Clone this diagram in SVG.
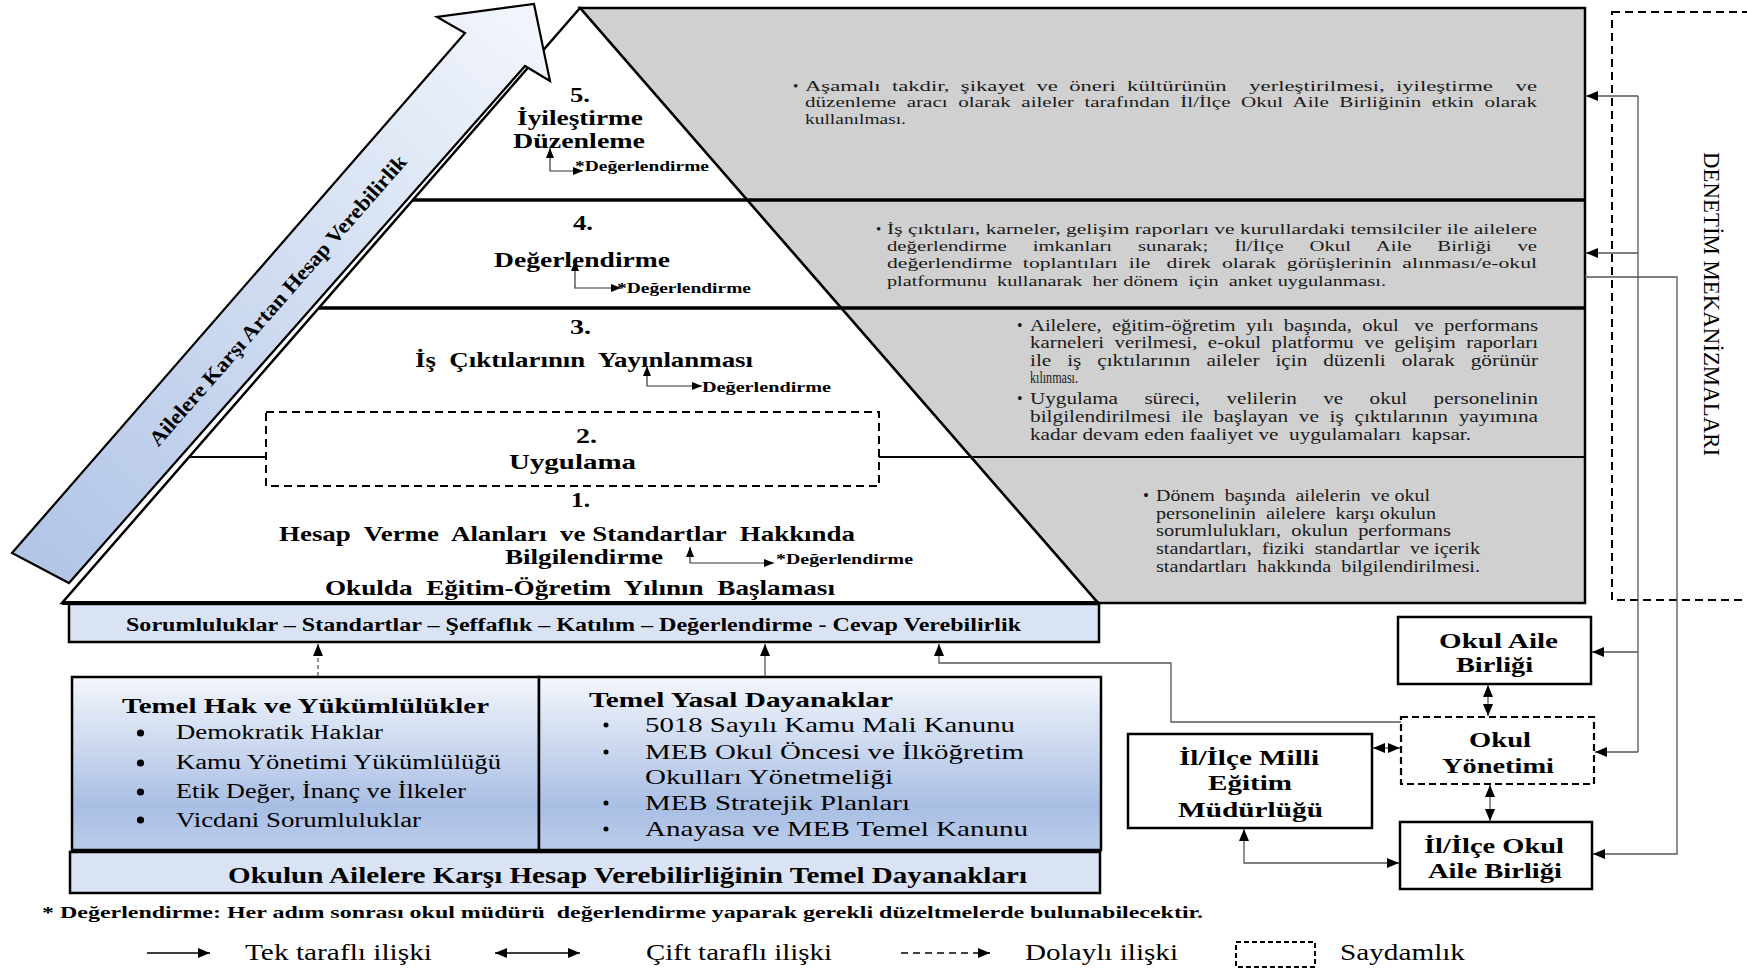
<svg xmlns="http://www.w3.org/2000/svg" width="1747" height="968" viewBox="0 0 1747 968" xml:space="preserve">
<defs>
  <style>
    text { font-family: "Liberation Serif", "Times New Roman", serif; fill: #000; white-space: pre; }
    .b { font-weight: bold; }
    .lvl { font-size: 21px; font-weight: bold; }
    .ev { font-size: 15px; font-weight: bold; }
    .g15 { font-size: 15px; fill: #1a1a1a; }
    .g16 { font-size: 16px; fill: #1a1a1a; }
    .g17 { font-size: 17px; fill: #1a1a1a; }
    .bx { font-size: 22px; font-weight: bold; }
    .lg { font-size: 23px; }
    .thick { stroke: #000; stroke-width: 3.5; }
    .thin { stroke: #000; stroke-width: 2; }
    .dash { fill: none; stroke: #000; stroke-width: 2; stroke-dasharray: 8 5; }
    .box { fill: #fff; stroke: #000; stroke-width: 2.5; }
    .con { fill: none; stroke: #555; stroke-width: 1.3; }
    .sm { fill: none; stroke: #333; stroke-width: 1.2; }
  </style>
  <marker id="a" viewBox="0 0 12 10" refX="12" refY="5" markerWidth="12" markerHeight="10" markerUnits="userSpaceOnUse" orient="auto-start-reverse">
    <path d="M0,0 L12,5 L0,10 z" fill="#000"/>
  </marker>
  <marker id="s" viewBox="0 0 10 8" refX="10" refY="4" markerWidth="10" markerHeight="8" markerUnits="userSpaceOnUse" orient="auto-start-reverse">
    <path d="M0,0 L10,4 L0,8 z" fill="#000"/>
  </marker>
  <linearGradient id="arrowFill" gradientUnits="userSpaceOnUse" x1="534" y1="4" x2="40" y2="569">
    <stop offset="0" stop-color="#f3f6fc"/>
    <stop offset="0.45" stop-color="#d3dff2"/>
    <stop offset="1" stop-color="#b2c5e7"/>
  </linearGradient>
  <linearGradient id="baseFill" x1="0" y1="0" x2="0" y2="1">
    <stop offset="0" stop-color="#f3f6fc"/>
    <stop offset="0.75" stop-color="#a9bee4"/>
    <stop offset="1" stop-color="#bccdeb"/>
  </linearGradient>
</defs>

<!-- grey description bands -->
<g id="bands">
  <polygon points="580,8 1585,8 1585,603 1098,603" fill="#d0d0d0" stroke="#000" stroke-width="2.5" stroke-linejoin="miter"/>
</g>

<!-- pyramid -->
<g id="pyramid">
  <polygon points="580,8 62,603 1098,603" fill="#fff" stroke="#000" stroke-width="2.5" stroke-linejoin="miter"/>
  <line class="thick" x1="412.8" y1="200" x2="1585" y2="200"/>
  <line class="thick" x1="318.8" y1="308" x2="1585" y2="308"/>
  <line class="thin" x1="189" y1="457" x2="266" y2="457"/>
  <line class="thin" x1="879" y1="457" x2="1585" y2="457"/>
  <line stroke="#000" stroke-width="4" x1="62" y1="603" x2="1098" y2="603"/>
</g>

<!-- big rising arrow at the left, drawn over the pyramid edge -->
<g id="arrow-accountability">
  <polygon points="534,4 550,81 525,66 69,583 12,553 465,33 437,17" fill="url(#arrowFill)" stroke="#000" stroke-width="2.2" stroke-linejoin="miter"/>
  <text class="b" font-size="21" transform="translate(283,305) rotate(-48.8)" x="-189.5" y="0" textLength="379" lengthAdjust="spacingAndGlyphs">Ailelere Karşı Artan Hesap Verebilirlik</text>
</g>

<g id="level5">
  <text class="lvl" x="570" y="102" textLength="20" lengthAdjust="spacingAndGlyphs">5.</text>
  <text class="lvl" x="517" y="125" textLength="126" lengthAdjust="spacingAndGlyphs">İyileştirme</text>
  <text class="lvl" x="513" y="148" textLength="132" lengthAdjust="spacingAndGlyphs">Düzenleme</text>
  <text class="ev" x="575" y="171" textLength="134" lengthAdjust="spacingAndGlyphs">*Değerlendirme</text>
  <text class="g15" x="793" y="91">•</text>
  <text class="g15" x="805" y="91" textLength="732" lengthAdjust="spacingAndGlyphs">Aşamalı  takdir,  şikayet  ve  öneri  kültürünün    yerleştirilmesi,  iyileştirme    ve</text>
  <text class="g15" x="805" y="107" textLength="732" lengthAdjust="spacingAndGlyphs">düzenleme  aracı  olarak  aileler  tarafından  İl/İlçe  Okul  Aile  Birliğinin  etkin  olarak</text>
  <text class="g15" x="805" y="124" textLength="101" lengthAdjust="spacingAndGlyphs">kullanılması.</text>
</g>

<g id="level4">
  <text class="lvl" x="573" y="230" textLength="20" lengthAdjust="spacingAndGlyphs">4.</text>
  <text class="lvl" x="494" y="267" textLength="176" lengthAdjust="spacingAndGlyphs">Değerlendirme</text>
  <text class="ev" x="617" y="293" textLength="134" lengthAdjust="spacingAndGlyphs">*Değerlendirme</text>
  <text class="g15" x="876" y="234">•</text>
  <text class="g15" x="887" y="234" textLength="650" lengthAdjust="spacingAndGlyphs">İş çıktıları, karneler, gelişim raporları ve kurullardaki temsilciler ile ailelere</text>
  <text class="g15" x="887" y="251" textLength="650" lengthAdjust="spacingAndGlyphs">değerlendirme     imkanları     sunarak;     İl/İlçe     Okul     Aile     Birliği     ve</text>
  <text class="g15" x="887" y="268" textLength="650" lengthAdjust="spacingAndGlyphs">değerlendirme  toplantıları  ile   direk  olarak  görüşlerinin  alınması/e-okul</text>
  <text class="g15" x="887" y="286" textLength="499" lengthAdjust="spacingAndGlyphs">platformunu  kullanarak  her dönem  için  anket uygulanması.</text>
</g>

<g id="level3">
  <text class="lvl" x="570" y="334" textLength="21" lengthAdjust="spacingAndGlyphs">3.</text>
  <text class="lvl" x="415" y="367" textLength="338" lengthAdjust="spacingAndGlyphs">İş  Çıktılarının  Yayınlanması</text>
  <text class="ev" x="702" y="392" textLength="129" lengthAdjust="spacingAndGlyphs">Değerlendirme</text>
  <text class="g16" x="1017" y="331">•</text>
  <text class="g16" x="1030" y="331" textLength="508" lengthAdjust="spacingAndGlyphs">Ailelere,  eğitim-öğretim  yılı  başında,  okul   ve  performans</text>
  <text class="g16" x="1030" y="348" textLength="508" lengthAdjust="spacingAndGlyphs">karneleri  verilmesi,  e-okul  platformu  ve  gelişim  raporları</text>
  <text class="g16" x="1030" y="366" textLength="508" lengthAdjust="spacingAndGlyphs">ile   iş   çıktılarının   aileler   için   düzenli   olarak   görünür</text>
  <text class="g16" x="1030" y="383" textLength="48" lengthAdjust="spacingAndGlyphs">kılınması.</text>
  <text class="g16" x="1017" y="404">•</text>
  <text class="g16" x="1030" y="404" textLength="508" lengthAdjust="spacingAndGlyphs">Uygulama     süreci,     velilerin     ve     okul     personelinin</text>
  <text class="g16" x="1030" y="422" textLength="508" lengthAdjust="spacingAndGlyphs">bilgilendirilmesi  ile  başlayan  ve  iş  çıktılarının  yayımına</text>
  <text class="g16" x="1030" y="440" textLength="441" lengthAdjust="spacingAndGlyphs">kadar devam eden faaliyet ve  uygulamaları  kapsar.</text>
</g>

<g id="level2">
  <rect class="dash" x="266" y="412" width="613" height="74" fill="#fff"/>
  <text class="lvl" x="576" y="443" textLength="21" lengthAdjust="spacingAndGlyphs">2.</text>
  <text class="lvl" x="509" y="469" textLength="127" lengthAdjust="spacingAndGlyphs">Uygulama</text>
</g>

<g id="level1">
  <text class="lvl" x="571" y="507" textLength="19" lengthAdjust="spacingAndGlyphs">1.</text>
  <text class="lvl" x="279" y="541" textLength="576" lengthAdjust="spacingAndGlyphs">Hesap  Verme  Alanları  ve Standartlar  Hakkında</text>
  <text class="lvl" x="505" y="564" textLength="158" lengthAdjust="spacingAndGlyphs">Bilgilendirme</text>
  <text class="ev" x="776" y="564" textLength="137" lengthAdjust="spacingAndGlyphs">*Değerlendirme</text>
  <text class="lvl" x="325" y="595" textLength="510" lengthAdjust="spacingAndGlyphs">Okulda  Eğitim-Öğretim  Yılının  Başlaması</text>
  <text class="g17" x="1143" y="501">•</text>
  <text class="g17" x="1156" y="501" textLength="274" lengthAdjust="spacingAndGlyphs">Dönem  başında  ailelerin  ve okul</text>
  <text class="g17" x="1156" y="519" textLength="280" lengthAdjust="spacingAndGlyphs">personelinin  ailelere  karşı okulun</text>
  <text class="g17" x="1156" y="536" textLength="295" lengthAdjust="spacingAndGlyphs">sorumlulukları,  okulun  performans</text>
  <text class="g17" x="1156" y="554" textLength="324" lengthAdjust="spacingAndGlyphs">standartları,  fiziki  standartlar  ve içerik</text>
  <text class="g17" x="1156" y="572" textLength="324" lengthAdjust="spacingAndGlyphs">standartları  hakkında  bilgilendirilmesi.</text>
</g>

<!-- principles bar under the pyramid -->
<g id="principles">
  <rect x="69" y="604" width="1030" height="38" fill="#dae3f3" stroke="#000" stroke-width="2.5"/>
  <line stroke="#000" stroke-width="4" x1="62" y1="603" x2="1099" y2="603"/>
  <text class="b" font-size="18" x="126" y="631" textLength="895" lengthAdjust="spacingAndGlyphs">Sorumluluklar – Standartlar – Şeffaflık – Katılım – Değerlendirme - Cevap Verebilirlik</text>
</g>

<g id="rights">
  <rect x="72" y="677" width="467" height="173" fill="url(#baseFill)" stroke="#000" stroke-width="2.5"/>
  <text class="b" font-size="22" x="122" y="713" textLength="367" lengthAdjust="spacingAndGlyphs">Temel Hak ve Yükümlülükler</text>
  <circle cx="140.5" cy="733" r="3.6"/>
  <circle cx="140.5" cy="763" r="3.6"/>
  <circle cx="140.5" cy="792" r="3.6"/>
  <circle cx="140.5" cy="820" r="3.6"/>
  <text font-size="20" x="176" y="739" textLength="207" lengthAdjust="spacingAndGlyphs">Demokratik Haklar</text>
  <text font-size="20" x="176" y="769" textLength="325" lengthAdjust="spacingAndGlyphs">Kamu Yönetimi Yükümlülüğü</text>
  <text font-size="20" x="176" y="798" textLength="290" lengthAdjust="spacingAndGlyphs">Etik Değer, İnanç ve İlkeler</text>
  <text font-size="20" x="176" y="827" textLength="245" lengthAdjust="spacingAndGlyphs">Vicdani Sorumluluklar</text>
</g>

<g id="legal">
  <rect x="539" y="677" width="562" height="173" fill="url(#baseFill)" stroke="#000" stroke-width="2.5"/>
  <text class="b" font-size="22" x="589" y="707" textLength="304" lengthAdjust="spacingAndGlyphs">Temel Yasal Dayanaklar</text>
  <circle cx="606" cy="725" r="2.5"/>
  <circle cx="606" cy="752" r="2.5"/>
  <circle cx="606" cy="803" r="2.5"/>
  <circle cx="606" cy="829" r="2.5"/>
  <text font-size="21" x="645" y="732" textLength="370" lengthAdjust="spacingAndGlyphs">5018 Sayılı Kamu Mali Kanunu</text>
  <text font-size="21" x="645" y="759" textLength="379" lengthAdjust="spacingAndGlyphs">MEB Okul Öncesi ve İlköğretim</text>
  <text font-size="21" x="645" y="784" textLength="248" lengthAdjust="spacingAndGlyphs">Okulları Yönetmeliği</text>
  <text font-size="21" x="645" y="810" textLength="265" lengthAdjust="spacingAndGlyphs">MEB Stratejik Planları</text>
  <text font-size="21" x="645" y="836" textLength="383" lengthAdjust="spacingAndGlyphs">Anayasa ve MEB Temel Kanunu</text>
</g>

<g id="foundations">
  <rect x="70" y="852" width="1030" height="41" fill="#dae3f3" stroke="#000" stroke-width="2.5"/>
  <text class="b" font-size="24" x="228" y="883" textLength="799" lengthAdjust="spacingAndGlyphs">Okulun Ailelere Karşı Hesap Verebilirliğinin Temel Dayanakları</text>
</g>

<!-- supervision frame -->
<g id="supervision">
  <rect class="dash" x="1612" y="12" width="200" height="588"/>
  <text font-size="23" transform="translate(1704,304) rotate(90)" x="-152" y="0" textLength="304" lengthAdjust="spacingAndGlyphs">DENETİM MEKANİZMALARI</text>
</g>

<!-- stakeholder boxes -->
<g id="okul-aile-birligi">
  <rect class="box" x="1398" y="617" width="193" height="67"/>
  <text class="bx" x="1439" y="648" textLength="119" lengthAdjust="spacingAndGlyphs">Okul Aile</text>
  <text class="bx" x="1456" y="672" textLength="77" lengthAdjust="spacingAndGlyphs">Birliği</text>
</g>
<g id="okul-yonetimi">
  <rect x="1401" y="717" width="193" height="67" fill="#fff" stroke="#000" stroke-width="2.2" stroke-dasharray="7 4"/>
  <text class="bx" x="1469" y="747" textLength="62" lengthAdjust="spacingAndGlyphs">Okul</text>
  <text class="bx" x="1442" y="773" textLength="112" lengthAdjust="spacingAndGlyphs">Yönetimi</text>
</g>
<g id="il-ilce-meb">
  <rect class="box" x="1128" y="734" width="244" height="94"/>
  <text class="bx" x="1179" y="765" textLength="140" lengthAdjust="spacingAndGlyphs">İl/İlçe Milli</text>
  <text class="bx" x="1208" y="790" textLength="84" lengthAdjust="spacingAndGlyphs">Eğitim</text>
  <text class="bx" x="1178" y="817" textLength="145" lengthAdjust="spacingAndGlyphs">Müdürlüğü</text>
</g>
<g id="il-ilce-okul-aile-birligi">
  <rect class="box" x="1400" y="822" width="192" height="67"/>
  <text class="bx" x="1424" y="853" textLength="140" lengthAdjust="spacingAndGlyphs">İl/İlçe Okul</text>
  <text class="bx" x="1428" y="878" textLength="134" lengthAdjust="spacingAndGlyphs">Aile Birliği</text>
</g>

<!-- connectors -->
<g id="connectors">
  <path class="sm" d="M550,148 V171 H583" marker-start="url(#s)" marker-end="url(#s)"/>
  <path class="sm" d="M575,261 V288 H621" marker-start="url(#s)" marker-end="url(#s)"/>
  <path class="sm" d="M647,366 V386 H702" marker-start="url(#s)" marker-end="url(#s)"/>
  <path class="sm" d="M690,547 V563 H774" marker-start="url(#s)" marker-end="url(#s)"/>

  <path class="con" d="M1638,96 V752"/>
  <path class="con" d="M1638,96 H1586" marker-end="url(#a)"/>
  <path class="con" d="M1638,253 H1586" marker-end="url(#a)"/>
  <path class="con" d="M1638,652 H1592" marker-end="url(#a)"/>
  <path class="con" d="M1638,752 H1595" marker-end="url(#a)"/>
  <path class="con" d="M1585,277 H1677 V854 H1593" marker-end="url(#a)"/>
  <path class="con" d="M1401,722 H1171 V663 H939 V644" marker-end="url(#a)"/>
  <path class="con" d="M318,676 V644" stroke-dasharray="4 3" marker-end="url(#a)"/>
  <path class="con" d="M765,676 V644" marker-end="url(#a)"/>
  <path class="con" d="M1488,685 V716" marker-start="url(#a)" marker-end="url(#a)"/>
  <path class="con" d="M1490,785 V821" marker-start="url(#a)" marker-end="url(#a)"/>
  <path class="con" d="M1373,748 H1400" marker-start="url(#a)" marker-end="url(#a)"/>
  <path class="con" d="M1244,829 V863 H1399" marker-start="url(#a)" marker-end="url(#a)"/>
</g>

<!-- footnote and legend -->
<g id="footnote">
  <text class="b" font-size="17" x="42" y="918" textLength="1161" lengthAdjust="spacingAndGlyphs">* Değerlendirme: Her adım sonrası okul müdürü  değerlendirme yaparak gerekli düzeltmelerde bulunabilecektir.</text>
</g>
<g id="legend">
  <path d="M147,953 H210" stroke="#000" stroke-width="1.6" marker-end="url(#a)"/>
  <text class="lg" x="245" y="960" textLength="187" lengthAdjust="spacingAndGlyphs">Tek taraflı ilişki</text>
  <path d="M495,953 H580" stroke="#000" stroke-width="1.6" marker-start="url(#a)" marker-end="url(#a)"/>
  <text class="lg" x="646" y="960" textLength="186" lengthAdjust="spacingAndGlyphs">Çift taraflı ilişki</text>
  <path d="M901,953 H990" stroke="#000" stroke-width="1.6" stroke-dasharray="7 5" marker-end="url(#a)"/>
  <text class="lg" x="1025" y="960" textLength="153" lengthAdjust="spacingAndGlyphs">Dolaylı ilişki</text>
  <rect x="1236" y="942" width="79" height="25" fill="none" stroke="#000" stroke-width="2" stroke-dasharray="5 3"/>
  <text class="lg" x="1340" y="960" textLength="125" lengthAdjust="spacingAndGlyphs">Saydamlık</text>
</g>
</svg>
